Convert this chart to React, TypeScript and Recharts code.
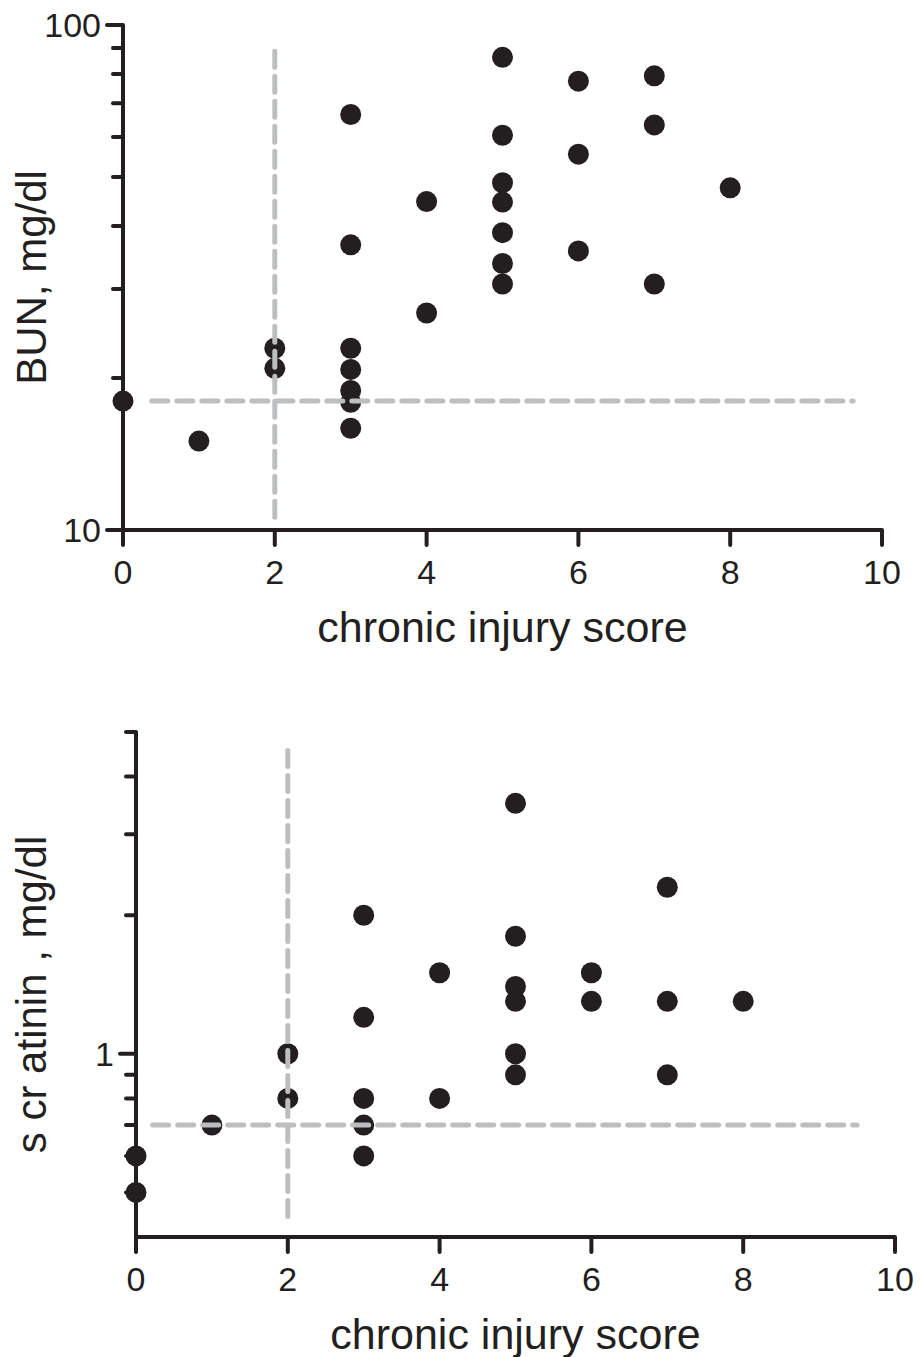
import { ReferenceLine, Scatter, ScatterChart, XAxis, YAxis } from "recharts";

const INK = "#231f20";
const DASH = "#bdbec0";
const FONT = "'Liberation Sans', Arial, Helvetica, sans-serif";

const scoreTicks = [0, 2, 4, 6, 8, 10];
const xTitle = "chronic injury score";

// BUN panel
const bunScore = [0, 1, 2, 2, 3, 3, 3, 3, 3, 3, 3, 4, 4, 5, 5, 5, 5, 5, 5, 5, 6, 6, 6, 7, 7, 7, 8];
const bunValue = [
  18, 15, 22.9, 20.9, 66.5, 36.7, 22.9, 20.8, 18.9, 17.9, 15.9, 44.7, 26.9, 86.3, 60.5, 48.7,
  44.6, 38.8, 33.7, 30.7, 77.4, 55.5, 35.7, 79.3, 63.4, 30.7, 47.6,
];
const bunTicks = [10, 20, 30, 40, 50, 60, 70, 80, 90, 100];
const bunLabeled = [10, 100];
const bunCutX = 2;
const bunCutY = 18;
const bunVSpan = [10.6, 92];
const bunHSpan = [0.38, 9.62];

// creatinine panel
const creatScore = [0, 0, 1, 2, 2, 3, 3, 3, 3, 3, 4, 4, 5, 5, 5, 5, 5, 5, 6, 6, 7, 7, 7, 8];
const creatValue = [
  0.6, 0.5, 0.7, 1.0, 0.8, 2.0, 1.2, 0.8, 0.7, 0.6, 1.5, 0.8, 3.5, 1.8, 1.4, 1.3, 1.0, 0.9, 1.5,
  1.3, 2.3, 1.3, 0.9, 1.3,
];
const creatTicks = [0.5, 0.6, 0.7, 0.8, 0.9, 1, 2, 3, 4, 5];
const creatLabeled = [1];
const creatCutX = 2;
const creatCutY = 0.7;
const creatVSpan = [0.443, 4.7];
const creatHSpan = [0.22, 9.5];

const zip = (xs: number[], ys: number[]) => xs.map((x, i) => ({ x, y: ys[i] }));

function Dot(props: any) {
  return <circle cx={props.cx} cy={props.cy} r={10.5} fill={INK} />;
}

function XTick(props: any) {
  const { x, y, payload } = props;
  return (
    <g>
      <line x1={x} x2={x} y1={y} y2={y + 15} stroke={INK} strokeWidth={4} strokeLinecap="round" />
      <text x={x} y={y + 30} dy="0.71em" textAnchor="middle" fontSize={34} fontFamily={FONT} fill={INK}>
        {payload.value}
      </text>
    </g>
  );
}

function YTick(props: any) {
  const { x, y, payload, labeled } = props;
  const major = labeled.includes(payload.value);
  return (
    <g>
      <line x1={x} x2={x - (major ? 16 : 10)} y1={y} y2={y} stroke={INK} strokeWidth={4} strokeLinecap="round" />
      {major && (
        <text x={x - 22} y={y} dy="0.36em" textAnchor="end" fontSize={34} fontFamily={FONT} fill={INK}>
          {payload.value}
        </text>
      )}
    </g>
  );
}

function XTitle(props: any) {
  const vb = props.viewBox;
  return (
    <text x={vb.x + vb.width / 2} y={vb.y + 112} textAnchor="middle" fontSize={43} fontFamily={FONT} fill={INK}>
      {xTitle}
    </text>
  );
}

function YTitle(props: any) {
  const vb = props.viewBox;
  const cx = vb.x + 46;
  const cy = vb.y + vb.height / 2 + (props.shift ?? 0);
  return (
    <text
      transform={`translate(${cx},${cy}) rotate(-90)`}
      textAnchor="middle"
      fontSize={42}
      fontFamily={FONT}
      fill={INK}
    >
      {props.text}
    </text>
  );
}

function Panel({
  points,
  yDomain,
  yTicks,
  yLabeled,
  yTitle,
  titleShift,
  cutX,
  cutY,
  vSpan,
  hSpan,
  height,
  margin,
  yAxisWidth,
  xAxisHeight,
}: any) {
  const dash = {
    stroke: DASH,
    strokeWidth: 5,
    strokeDasharray: "16 9",
    strokeLinecap: "round" as const,
    zIndex: 2000,
  };
  return (
    <ScatterChart width={920} height={height} margin={margin}>
      <XAxis
        type="number"
        dataKey="x"
        domain={[0, 10]}
        ticks={scoreTicks}
        interval={0}
        axisLine={{ stroke: INK, strokeWidth: 4 }}
        tickLine={false}
        tickSize={0}
        tickMargin={0}
        tick={<XTick />}
        height={xAxisHeight}
        label={<XTitle />}
      />
      <YAxis
        type="number"
        dataKey="y"
        scale="log"
        domain={yDomain}
        ticks={yTicks}
        interval={0}
        axisLine={{ stroke: INK, strokeWidth: 4 }}
        tickLine={false}
        tickSize={0}
        tickMargin={0}
        tick={<YTick labeled={yLabeled} />}
        width={yAxisWidth}
        label={<YTitle text={yTitle} shift={titleShift} />}
      />
      <Scatter data={points} shape={<Dot />} isAnimationActive={false} zIndex={1500} />
      <ReferenceLine
        segment={[
          { x: cutX, y: vSpan[0] },
          { x: cutX, y: vSpan[1] },
        ]}
        {...dash}
      />
      <ReferenceLine
        segment={[
          { x: hSpan[0], y: cutY },
          { x: hSpan[1], y: cutY },
        ]}
        {...dash}
      />
    </ScatterChart>
  );
}

export default function App() {
  return (
    <div style={{ position: "absolute", top: 0, left: 0, width: 920, height: 1357, background: "#fff" }}>
      <div style={{ position: "absolute", top: 0, left: 0 }}>
        <Panel
          points={zip(bunScore, bunValue)}
          yDomain={[10, 100]}
          yTicks={bunTicks}
          yLabeled={bunLabeled}
          yTitle="BUN, mg/dl"
          titleShift={0}
          cutX={bunCutX}
          cutY={bunCutY}
          vSpan={bunVSpan}
          hSpan={bunHSpan}
          height={680}
          margin={{ top: 25, right: 38, bottom: 30, left: 0 }}
          yAxisWidth={123}
          xAxisHeight={120}
        />
      </div>
      <div style={{ position: "absolute", top: 680, left: 0 }}>
        <Panel
          points={zip(creatScore, creatValue)}
          yDomain={[0.4, 5]}
          yTicks={creatTicks}
          yLabeled={creatLabeled}
          yTitle="s cr atinin , mg/dl"
          titleShift={10}
          cutX={creatCutX}
          cutY={creatCutY}
          vSpan={creatVSpan}
          hSpan={creatHSpan}
          height={677}
          margin={{ top: 52, right: 25, bottom: 5, left: 0 }}
          yAxisWidth={136}
          xAxisHeight={115}
        />
      </div>
    </div>
  );
}
